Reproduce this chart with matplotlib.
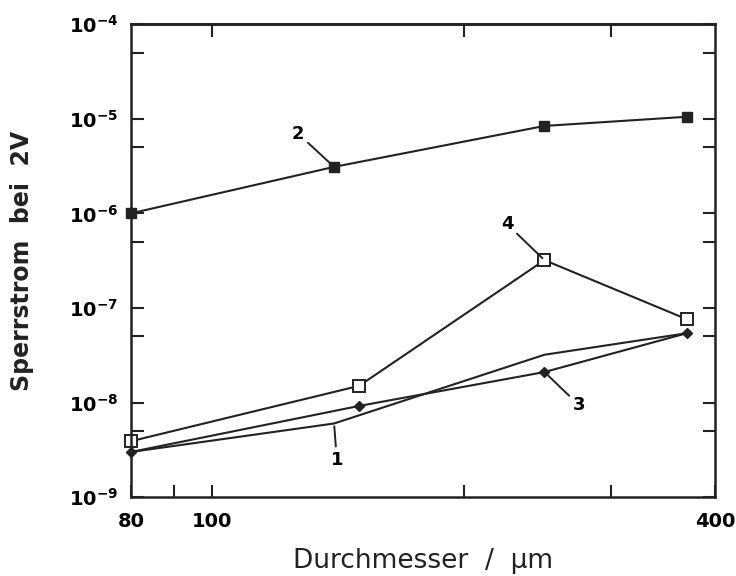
# Sperrstrom vs. Durchmesser (log-log)

import numpy as np
import matplotlib.pyplot as plt
from matplotlib.ticker import FixedLocator, FixedFormatter, NullLocator

plt.rcParams['font.family'] = 'DejaVu Sans'
plt.rcParams['mathtext.default'] = 'bf'

# Data
durchmesser = [80, 140, 250, 370]
kurve_1 = [3.0e-9, 6.0e-9, 3.2e-8, 5.4e-8]
kurve_2 = [1.0e-6, 3.1e-6, 8.4e-6, 1.05e-5]
d_34 = [80, 150, 250, 370]
kurve_3 = [3.0e-9, 9.2e-9, 2.1e-8, 5.4e-8]
kurve_4 = [3.9e-9, 1.5e-8, 3.2e-7, 7.6e-8]

x_ticks = [80, 90, 100, 200, 300, 400]
x_ticklabels = ['80', '', '100', '', '', '400']
y_major = [1e-9, 1e-8, 1e-7, 1e-6, 1e-5, 1e-4]
y_minor = [5e-9, 5e-8, 5e-7, 5e-6, 5e-5]

col = '#222222'

fig = plt.figure(figsize=(7.36, 5.76), dpi=100)
ax = fig.add_axes([0.178, 0.137, 0.7935, 0.821])

ax.plot(durchmesser, kurve_1, color=col, lw=1.5, clip_on=False)
ax.plot(durchmesser, kurve_2, color=col, lw=1.5, marker='s', ms=6.5,
        mfc=col, mec=col, clip_on=False)
ax.plot(d_34, kurve_3, color=col, lw=1.5, marker='D', ms=5,
        mfc=col, mec=col, clip_on=False)
ax.plot(d_34, kurve_4, color=col, lw=1.5, marker='s', ms=8,
        mfc='white', mec=col, mew=1.4, clip_on=False)

ax.set_xscale('log')
ax.set_yscale('log')
ax.set_xlim(80, 400)
ax.set_ylim(1e-9, 1e-4)

ax.xaxis.set_major_locator(FixedLocator(x_ticks))
ax.xaxis.set_major_formatter(FixedFormatter(x_ticklabels))
ax.xaxis.set_minor_locator(NullLocator())
ax.yaxis.set_major_locator(FixedLocator(y_major))
ax.yaxis.set_minor_locator(FixedLocator(y_minor))
ax.yaxis.set_major_formatter(FixedFormatter(
    [r'$10^{%d}$' % int(np.log10(v)) for v in y_major]))

ax.tick_params(axis='both', which='both', direction='in', length=9,
               width=1.5, color=col, right=True)
ax.tick_params(axis='x', labelsize=14, pad=11)
ax.tick_params(axis='y', labelsize=14, pad=9)
for lab in ax.get_xticklabels():
    lab.set_fontweight('bold')

# top ticks only at 100, 200, 300
top = ax.secondary_xaxis('top')
top.set_xscale('log')
top.xaxis.set_major_locator(FixedLocator([100, 200, 300]))
top.xaxis.set_minor_locator(NullLocator())
top.tick_params(direction='in', length=9, width=1.5, color=col,
                labeltop=False)
top.spines['top'].set_linewidth(1.8)

for s in ax.spines.values():
    s.set_linewidth(1.8)
    s.set_color(col)

ax.set_xlabel('Durchmesser  /  µm', fontsize=19, labelpad=12, color=col)
ax.set_ylabel('Sperrstrom  bei  2V', fontsize=17, fontweight='bold',
              labelpad=25, color=col)

# curve labels
arrow = dict(arrowstyle='-', color=col, lw=1.4, shrinkA=1, shrinkB=2)
ax.annotate('2', xy=(140, 3.1e-6), xytext=(-26, 24), textcoords='offset points',
            fontsize=13, fontweight='bold', ha='center', va='center', arrowprops=arrow)
ax.annotate('4', xy=(250, 3.2e-7), xytext=(-27, 26), textcoords='offset points',
            fontsize=13, fontweight='bold', ha='center', va='center', arrowprops=arrow)
ax.annotate('3', xy=(250, 2.1e-8), xytext=(25, -24), textcoords='offset points',
            fontsize=13, fontweight='bold', ha='center', va='center', arrowprops=arrow)
ax.annotate('1', xy=(140, 6.0e-9), xytext=(2, -26), textcoords='offset points',
            fontsize=13, fontweight='bold', ha='center', va='center', arrowprops=arrow)

plt.savefig('out.png', dpi=100)
